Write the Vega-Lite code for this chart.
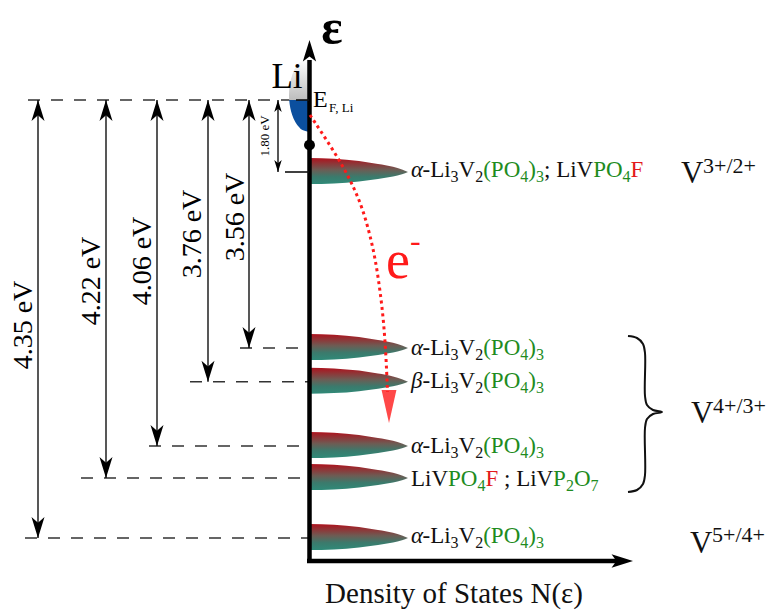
{
  "$schema": "https://vega.github.io/schema/vega-lite/v6.json",
  "width": 771,
  "height": 613,
  "autosize": {"type": "fit", "contains": "padding"},
  "padding": 0,
  "background": "white",
  "config": {"view": {"stroke": null}},
  "datasets": {
    "dashes": [
      {"x": 28, "x2": 290, "y": 100},
      {"x": 240, "x2": 309, "y": 348},
      {"x": 190, "x2": 309, "y": 381.7},
      {"x": 149, "x2": 309, "y": 446},
      {"x": 81, "x2": 309, "y": 478},
      {"x": 25, "x2": 309, "y": 538}
    ],
    "ticks": [
      {"x": 296, "x2": 309, "y": 100},
      {"x": 285, "x2": 309, "y": 172}
    ],
    "arrows": [
      {"x": 38, "y": 100, "y2": 538, "kind": "main"},
      {"x": 106, "y": 100, "y2": 478, "kind": "main"},
      {"x": 157, "y": 100, "y2": 446, "kind": "main"},
      {"x": 208, "y": 100, "y2": 381.7, "kind": "main"},
      {"x": 249, "y": 100, "y2": 348, "kind": "main"},
      {"x": 278, "y": 100, "y2": 172, "kind": "small"}
    ],
    "arrowLabels": [
      {"x": 24, "y": 325, "t": "4.35 eV"},
      {"x": 92, "y": 281, "t": "4.22 eV"},
      {"x": 143, "y": 261, "t": "4.06 eV"},
      {"x": 193, "y": 234, "t": "3.76 eV"},
      {"x": 236, "y": 217, "t": "3.56 eV"}
    ],
    "liGray": [
      {"y": 58, "x": 309, "x2": 309},
      {"y": 62, "x": 300, "x2": 309},
      {"y": 68, "x": 295.3, "x2": 309},
      {"y": 75, "x": 292.2, "x2": 309},
      {"y": 85, "x": 289.7, "x2": 309},
      {"y": 95, "x": 289, "x2": 309},
      {"y": 100, "x": 289.2, "x2": 309}
    ],
    "liBlue": [
      {"y": 100, "x": 289.2, "x2": 309},
      {"y": 108, "x": 290.3, "x2": 309},
      {"y": 115, "x": 292.2, "x2": 309},
      {"y": 122, "x": 295.3, "x2": 309},
      {"y": 127, "x": 299, "x2": 309},
      {"y": 130, "x": 302.5, "x2": 309},
      {"y": 132, "x": 309, "x2": 309}
    ],
    "blobs": [
      {"b": 1, "x": 309, "y": 158, "y2": 184}, {"b": 1, "x": 334, "y": 158.7, "y2": 183.4}, {"b": 1, "x": 359, "y": 160.9, "y2": 181.5}, {"b": 1, "x": 378, "y": 163.9, "y2": 179}, {"b": 1, "x": 393, "y": 166.7, "y2": 176.6}, {"b": 1, "x": 402, "y": 169.5, "y2": 174.2}, {"b": 1, "x": 408, "y": 172, "y2": 172},
      {"b": 2, "x": 309, "y": 334, "y2": 360}, {"b": 2, "x": 334, "y": 334.7, "y2": 359.4}, {"b": 2, "x": 359, "y": 336.9, "y2": 357.5}, {"b": 2, "x": 378, "y": 339.9, "y2": 355}, {"b": 2, "x": 393, "y": 342.7, "y2": 352.6}, {"b": 2, "x": 402, "y": 345.5, "y2": 350.2}, {"b": 2, "x": 408, "y": 348, "y2": 348},
      {"b": 3, "x": 309, "y": 367.7, "y2": 393.7}, {"b": 3, "x": 334, "y": 368.4, "y2": 393.1}, {"b": 3, "x": 359, "y": 370.6, "y2": 391.2}, {"b": 3, "x": 378, "y": 373.6, "y2": 388.7}, {"b": 3, "x": 393, "y": 376.4, "y2": 386.3}, {"b": 3, "x": 402, "y": 379.2, "y2": 383.9}, {"b": 3, "x": 408, "y": 381.7, "y2": 381.7},
      {"b": 4, "x": 309, "y": 432, "y2": 458}, {"b": 4, "x": 334, "y": 432.7, "y2": 457.4}, {"b": 4, "x": 359, "y": 434.9, "y2": 455.5}, {"b": 4, "x": 378, "y": 437.9, "y2": 453}, {"b": 4, "x": 393, "y": 440.7, "y2": 450.6}, {"b": 4, "x": 402, "y": 443.5, "y2": 448.2}, {"b": 4, "x": 408, "y": 446, "y2": 446},
      {"b": 5, "x": 309, "y": 464, "y2": 490}, {"b": 5, "x": 334, "y": 464.7, "y2": 489.4}, {"b": 5, "x": 359, "y": 466.9, "y2": 487.5}, {"b": 5, "x": 378, "y": 469.9, "y2": 485}, {"b": 5, "x": 393, "y": 472.7, "y2": 482.6}, {"b": 5, "x": 402, "y": 475.5, "y2": 480.2}, {"b": 5, "x": 408, "y": 478, "y2": 478},
      {"b": 6, "x": 309, "y": 524, "y2": 550}, {"b": 6, "x": 334, "y": 524.7, "y2": 549.4}, {"b": 6, "x": 359, "y": 526.9, "y2": 547.5}, {"b": 6, "x": 378, "y": 529.9, "y2": 545}, {"b": 6, "x": 393, "y": 532.7, "y2": 542.6}, {"b": 6, "x": 402, "y": 535.5, "y2": 540.2}, {"b": 6, "x": 408, "y": 538, "y2": 538}
    ],
    "axes": [
      {"x": 309.5, "x2": 309.5, "y": 60, "y2": 563},
      {"x": 307, "x2": 620, "y": 561, "y2": 561}
    ],
    "axisHeads": [
      {"x": 309.5, "y": 40, "d": "up"},
      {"x": 633, "y": 561, "d": "right"}
    ],
    "redCurve": [
      {"i": 0, "x": 310, "y": 115}, {"i": 1, "x": 320, "y": 130}, {"i": 2, "x": 333, "y": 150}, {"i": 3, "x": 345, "y": 170}, {"i": 4, "x": 355, "y": 190}, {"i": 5, "x": 363, "y": 210}, {"i": 6, "x": 370, "y": 235}, {"i": 7, "x": 375.5, "y": 260}, {"i": 8, "x": 380, "y": 290}, {"i": 9, "x": 383.5, "y": 320}, {"i": 10, "x": 386, "y": 355}, {"i": 11, "x": 387.5, "y": 392}
    ],
    "brace": [
      {"i": 0, "x": 628, "y": 336}, {"i": 1, "x": 637, "y": 338}, {"i": 2, "x": 643, "y": 344}, {"i": 3, "x": 645, "y": 353}, {"i": 4, "x": 645, "y": 396}, {"i": 5, "x": 647, "y": 405}, {"i": 6, "x": 653, "y": 410}, {"i": 7, "x": 662, "y": 412}, {"i": 8, "x": 653, "y": 414}, {"i": 9, "x": 647, "y": 419}, {"i": 10, "x": 645, "y": 428}, {"i": 11, "x": 645, "y": 475}, {"i": 12, "x": 643, "y": 484}, {"i": 13, "x": 637, "y": 490}, {"i": 14, "x": 628, "y": 492}
    ],
    "seg": [
      {"role": "it", "c": "k", "t": "α", "x": 411, "y": 177},
      {"role": "main", "c": "k", "t": "-Li", "x": 422.5, "y": 177},
      {"role": "sub", "c": "k", "t": "3", "x": 450.6, "y": 182},
      {"role": "main", "c": "k", "t": "V", "x": 458.6, "y": 177},
      {"role": "sub", "c": "k", "t": "2", "x": 475.2, "y": 182},
      {"role": "main", "c": "g", "t": "(PO", "x": 483.2, "y": 177},
      {"role": "sub", "c": "g", "t": "4", "x": 520.3, "y": 182},
      {"role": "main", "c": "g", "t": ")", "x": 528.3, "y": 177},
      {"role": "sub", "c": "g", "t": "3", "x": 536, "y": 182},
      {"role": "main", "c": "k", "t": "; LiV", "x": 544, "y": 177},
      {"role": "main", "c": "g", "t": "PO", "x": 593.2, "y": 177},
      {"role": "sub", "c": "g", "t": "4", "x": 622.6, "y": 182},
      {"role": "main", "c": "r", "t": "F", "x": 630.6, "y": 177},

      {"role": "it", "c": "k", "t": "α", "x": 411, "y": 355},
      {"role": "main", "c": "k", "t": "-Li", "x": 422.5, "y": 355},
      {"role": "sub", "c": "k", "t": "3", "x": 450.6, "y": 360},
      {"role": "main", "c": "k", "t": "V", "x": 458.6, "y": 355},
      {"role": "sub", "c": "k", "t": "2", "x": 475.2, "y": 360},
      {"role": "main", "c": "g", "t": "(PO", "x": 483.2, "y": 355},
      {"role": "sub", "c": "g", "t": "4", "x": 520.3, "y": 360},
      {"role": "main", "c": "g", "t": ")", "x": 528.3, "y": 355},
      {"role": "sub", "c": "g", "t": "3", "x": 536, "y": 360},

      {"role": "it", "c": "k", "t": "β", "x": 411, "y": 388},
      {"role": "main", "c": "k", "t": "-Li", "x": 422.5, "y": 388},
      {"role": "sub", "c": "k", "t": "3", "x": 450.6, "y": 393},
      {"role": "main", "c": "k", "t": "V", "x": 458.6, "y": 388},
      {"role": "sub", "c": "k", "t": "2", "x": 475.2, "y": 393},
      {"role": "main", "c": "g", "t": "(PO", "x": 483.2, "y": 388},
      {"role": "sub", "c": "g", "t": "4", "x": 520.3, "y": 393},
      {"role": "main", "c": "g", "t": ")", "x": 528.3, "y": 388},
      {"role": "sub", "c": "g", "t": "3", "x": 536, "y": 393},

      {"role": "it", "c": "k", "t": "α", "x": 411, "y": 453},
      {"role": "main", "c": "k", "t": "-Li", "x": 422.5, "y": 453},
      {"role": "sub", "c": "k", "t": "3", "x": 450.6, "y": 458},
      {"role": "main", "c": "k", "t": "V", "x": 458.6, "y": 453},
      {"role": "sub", "c": "k", "t": "2", "x": 475.2, "y": 458},
      {"role": "main", "c": "g", "t": "(PO", "x": 483.2, "y": 453},
      {"role": "sub", "c": "g", "t": "4", "x": 520.3, "y": 458},
      {"role": "main", "c": "g", "t": ")", "x": 528.3, "y": 453},
      {"role": "sub", "c": "g", "t": "3", "x": 536, "y": 458},

      {"role": "main", "c": "k", "t": "LiV", "x": 411, "y": 486},
      {"role": "main", "c": "g", "t": "PO", "x": 448, "y": 486},
      {"role": "sub", "c": "g", "t": "4", "x": 477.4, "y": 491},
      {"role": "main", "c": "r", "t": "F", "x": 485.4, "y": 486},
      {"role": "main", "c": "k", "t": "; LiV", "x": 504, "y": 486},
      {"role": "main", "c": "g", "t": "P", "x": 553.1, "y": 486},
      {"role": "sub", "c": "g", "t": "2", "x": 565.9, "y": 491},
      {"role": "main", "c": "g", "t": "O", "x": 573.9, "y": 486},
      {"role": "sub", "c": "g", "t": "7", "x": 590.5, "y": 491},

      {"role": "it", "c": "k", "t": "α", "x": 411, "y": 543},
      {"role": "main", "c": "k", "t": "-Li", "x": 422.5, "y": 543},
      {"role": "sub", "c": "k", "t": "3", "x": 450.6, "y": 548},
      {"role": "main", "c": "k", "t": "V", "x": 458.6, "y": 543},
      {"role": "sub", "c": "k", "t": "2", "x": 475.2, "y": 548},
      {"role": "main", "c": "g", "t": "(PO", "x": 483.2, "y": 543},
      {"role": "sub", "c": "g", "t": "4", "x": 520.3, "y": 548},
      {"role": "main", "c": "g", "t": ")", "x": 528.3, "y": 543},
      {"role": "sub", "c": "g", "t": "3", "x": 536, "y": 548}
    ],
    "vLabels": [
      {"role": "V", "t": "V", "x": 681, "y": 183},
      {"role": "sup", "t": "3+/2+", "x": 703, "y": 173},
      {"role": "V", "t": "V", "x": 691, "y": 423},
      {"role": "sup", "t": "4+/3+", "x": 713, "y": 413},
      {"role": "V", "t": "V", "x": 690, "y": 553},
      {"role": "sup", "t": "5+/4+", "x": 712, "y": 542}
    ]
  },
  "encoding": {
    "x": {"field": "x", "type": "quantitative", "scale": {"domain": [0, 771], "nice": false, "zero": false}, "axis": null},
    "y": {"field": "y", "type": "quantitative", "scale": {"domain": [0, 613], "reverse": true, "nice": false, "zero": false}, "axis": null}
  },
  "layer": [
    {
      "data": {"name": "dashes"},
      "mark": {"type": "rule", "color": "#333333", "strokeWidth": 1.6, "strokeDash": [12, 11]},
      "encoding": {"x2": {"field": "x2"}}
    },
    {
      "data": {"name": "arrows"},
      "mark": {"type": "rule", "color": "#111111", "strokeWidth": 1.4},
      "encoding": {"y2": {"field": "y2"}}
    },
    {
      "data": {"name": "arrows"},
      "mark": {"type": "point", "shape": "M0,0 L0.62,2 L0,1.45 L-0.62,2 Z", "filled": true, "color": "black", "opacity": 1, "strokeWidth": 0},
      "encoding": {"size": {"field": "kind", "type": "ordinal", "scale": {"domain": ["main", "small"], "range": [441, 144]}, "legend": null}}
    },
    {
      "data": {"name": "arrows"},
      "mark": {"type": "point", "shape": "M0,0 L0.62,-2 L0,-1.45 L-0.62,-2 Z", "filled": true, "color": "black", "opacity": 1, "strokeWidth": 0},
      "encoding": {
        "y": {"field": "y2", "type": "quantitative", "scale": {"domain": [0, 613], "reverse": true, "nice": false, "zero": false}, "axis": null},
        "size": {"field": "kind", "type": "ordinal", "scale": {"domain": ["main", "small"], "range": [441, 144]}, "legend": null}
      }
    },
    {
      "data": {"name": "liGray"},
      "mark": {"type": "area", "orient": "horizontal", "interpolate": "monotone", "color": {"gradient": "linear", "x1": 0, "y1": 0, "x2": 0, "y2": 1, "stops": [{"offset": 0, "color": "#ffffff"}, {"offset": 1, "color": "#bdbdbd"}]}},
      "encoding": {"x2": {"field": "x2"}}
    },
    {
      "data": {"name": "liBlue"},
      "mark": {"type": "area", "orient": "horizontal", "interpolate": "monotone", "color": "#0b4f9e"},
      "encoding": {"x2": {"field": "x2"}}
    },
    {
      "data": {"name": "blobs"},
      "mark": {"type": "area", "orient": "vertical", "interpolate": "monotone", "color": {"gradient": "linear", "x1": 0, "y1": 0, "x2": 0, "y2": 1, "stops": [{"offset": 0, "color": "#ae121d"}, {"offset": 0.45, "color": "#6d5c54"}, {"offset": 0.72, "color": "#3b7a6c"}, {"offset": 1, "color": "#2f8a78"}]}},
      "encoding": {"y2": {"field": "y2"}, "detail": {"field": "b", "type": "nominal"}}
    },
    {
      "data": {"name": "axes"},
      "mark": {"type": "rule", "color": "black", "strokeWidth": 4.5},
      "encoding": {"x2": {"field": "x2"}, "y2": {"field": "y2"}}
    },
    {
      "data": {"name": "axisHeads"},
      "mark": {"type": "point", "filled": true, "color": "black", "opacity": 1, "strokeWidth": 0, "size": 460},
      "encoding": {"shape": {"field": "d", "type": "nominal", "scale": {"domain": ["up", "right"], "range": ["M0,0 L0.62,2 L0,1.55 L-0.62,2 Z", "M0,0 L-2,0.62 L-1.55,0 L-2,-0.62 Z"]}, "legend": null}}
    },
    {
      "data": {"name": "ticks"},
      "mark": {"type": "rule", "color": "#111111", "strokeWidth": 1.6},
      "encoding": {"x2": {"field": "x2"}}
    },
    {
      "data": {"values": [{"x": 309.5, "y": 145}]},
      "mark": {"type": "circle", "color": "black", "opacity": 1, "size": 120}
    },
    {
      "data": {"name": "redCurve"},
      "mark": {"type": "line", "color": "#ff1a1a", "strokeWidth": 3, "strokeDash": [3, 3.5], "interpolate": "basis"},
      "encoding": {"order": {"field": "i", "type": "quantitative"}}
    },
    {
      "data": {"values": [{"x": 389, "y": 423}]},
      "mark": {"type": "point", "shape": "M0,0 L0.45,-2 L-0.45,-2 Z", "filled": true, "color": "#ff1a1a", "opacity": 0.8, "strokeWidth": 0, "size": 1089}
    },
    {
      "data": {"name": "brace"},
      "mark": {"type": "line", "color": "#111111", "strokeWidth": 2, "interpolate": "catmull-rom"},
      "encoding": {"order": {"field": "i", "type": "quantitative"}}
    },
    {
      "data": {"name": "arrowLabels"},
      "mark": {"type": "text", "font": "Liberation Serif", "fontSize": 28, "angle": 270, "align": "center", "baseline": "middle", "color": "black"},
      "encoding": {"text": {"field": "t"}}
    },
    {
      "data": {"values": [{"x": 265, "y": 136, "t": "1.80 eV"}]},
      "mark": {"type": "text", "font": "Liberation Serif", "fontSize": 13, "angle": 270, "align": "center", "baseline": "middle", "color": "black"},
      "encoding": {"text": {"field": "t"}}
    },
    {
      "data": {"name": "seg"},
      "transform": [{"filter": "datum.role === 'main'"}],
      "mark": {"type": "text", "font": "Liberation Serif", "fontSize": 23, "align": "left", "baseline": "alphabetic"},
      "encoding": {
        "text": {"field": "t"},
        "color": {"field": "c", "type": "nominal", "scale": {"domain": ["k", "g", "r"], "range": ["#111111", "#1e8c1e", "#e3191c"]}, "legend": null}
      }
    },
    {
      "data": {"name": "seg"},
      "transform": [{"filter": "datum.role === 'it'"}],
      "mark": {"type": "text", "font": "Liberation Serif", "fontSize": 23, "fontStyle": "italic", "align": "left", "baseline": "alphabetic"},
      "encoding": {
        "text": {"field": "t"},
        "color": {"field": "c", "type": "nominal", "scale": {"domain": ["k", "g", "r"], "range": ["#111111", "#1e8c1e", "#e3191c"]}, "legend": null}
      }
    },
    {
      "data": {"name": "seg"},
      "transform": [{"filter": "datum.role === 'sub'"}],
      "mark": {"type": "text", "font": "Liberation Serif", "fontSize": 16, "align": "left", "baseline": "alphabetic"},
      "encoding": {
        "text": {"field": "t"},
        "color": {"field": "c", "type": "nominal", "scale": {"domain": ["k", "g", "r"], "range": ["#111111", "#1e8c1e", "#e3191c"]}, "legend": null}
      }
    },
    {
      "data": {"name": "vLabels"},
      "transform": [{"filter": "datum.role === 'V'"}],
      "mark": {"type": "text", "font": "Liberation Serif", "fontSize": 31, "align": "left", "baseline": "alphabetic", "color": "#111111"},
      "encoding": {"text": {"field": "t"}}
    },
    {
      "data": {"name": "vLabels"},
      "transform": [{"filter": "datum.role === 'sup'"}],
      "mark": {"type": "text", "font": "Liberation Serif", "fontSize": 22, "align": "left", "baseline": "alphabetic", "color": "#111111"},
      "encoding": {"text": {"field": "t"}}
    },
    {
      "data": {"values": [{"x": 287, "y": 88, "t": "Li"}]},
      "mark": {"type": "text", "font": "Liberation Serif", "fontSize": 35, "align": "center", "baseline": "alphabetic", "color": "black"},
      "encoding": {"text": {"field": "t"}}
    },
    {
      "data": {"values": [{"x": 332, "y": 44, "t": "ε"}]},
      "mark": {"type": "text", "font": "Liberation Serif", "fontSize": 50, "fontWeight": "bold", "align": "center", "baseline": "alphabetic", "color": "black"},
      "encoding": {"text": {"field": "t"}}
    },
    {
      "data": {"values": [{"x": 313, "y": 107, "t": "E"}]},
      "mark": {"type": "text", "font": "Liberation Serif", "fontSize": 24, "align": "left", "baseline": "alphabetic", "color": "black"},
      "encoding": {"text": {"field": "t"}}
    },
    {
      "data": {"values": [{"x": 329, "y": 112, "t": "F, Li"}]},
      "mark": {"type": "text", "font": "Liberation Serif", "fontSize": 13, "align": "left", "baseline": "alphabetic", "color": "black"},
      "encoding": {"text": {"field": "t"}}
    },
    {
      "data": {"values": [{"x": 386, "y": 278, "t": "e"}]},
      "mark": {"type": "text", "font": "Liberation Serif", "fontSize": 54, "align": "left", "baseline": "alphabetic", "color": "#ff1a1a"},
      "encoding": {"text": {"field": "t"}}
    },
    {
      "data": {"values": [{"x": 410, "y": 251, "t": "-"}]},
      "mark": {"type": "text", "font": "Liberation Serif", "fontSize": 32, "align": "left", "baseline": "alphabetic", "color": "#ff1a1a"},
      "encoding": {"text": {"field": "t"}}
    },
    {
      "data": {"values": [{"x": 454, "y": 603, "t": "Density of States N(ε)"}]},
      "mark": {"type": "text", "font": "Liberation Serif", "fontSize": 29, "align": "center", "baseline": "alphabetic", "color": "#111111"},
      "encoding": {"text": {"field": "t"}}
    }
  ]
}
